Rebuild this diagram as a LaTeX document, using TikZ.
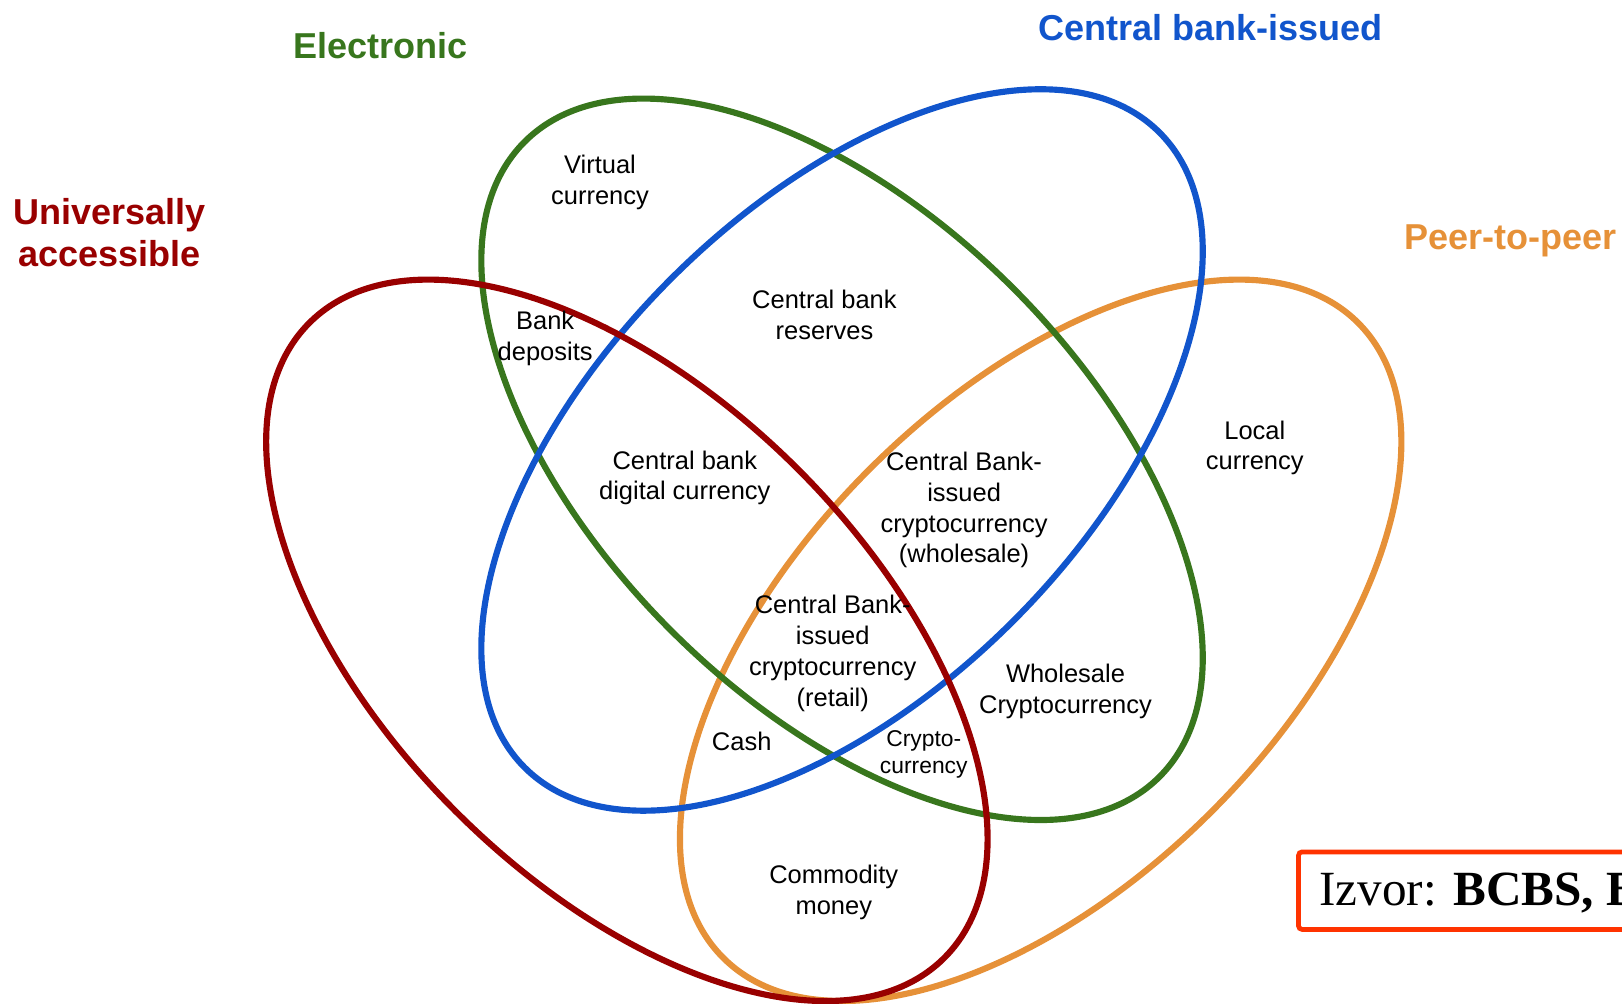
\documentclass[tikz,border=0pt]{standalone}
\usepackage{fontspec}
\setmainfont{Liberation Sans}
\newfontfamily\izvorfont{Liberation Serif}
\usepackage{xcolor}
\usepackage{tikz}
\usetikzlibrary{positioning}

\definecolor{univred}{HTML}{990000}
\definecolor{elecgreen}{HTML}{38761D}
\definecolor{cbblue}{HTML}{1155CC}
\definecolor{ptporange}{HTML}{E69138}
\definecolor{izvorred}{HTML}{FF3300}

\begin{document}
\begin{tikzpicture}[x=0.020688cm, y=-0.020688cm,
  set/.style={line width=3.5pt},
  petal/.style={x radius=8.98cm, y radius=4.84cm},
  title/.style={font=\fontsize{20.5}{24.1}\selectfont\bfseries, align=center, inner sep=0pt},
  region/.style={font=\fontsize{14.5}{17.6}\selectfont, align=center, inner sep=0pt},
  small/.style={font=\fontsize{13}{15.3}\selectfont, align=center, inner sep=0pt},
  source/.style={draw=izvorred, line width=2.7pt, rounded corners=2pt, minimum height=1.55cm,
    inner xsep=0.42cm, text height=0.62cm, text depth=0.04cm, font=\izvorfont\fontsize{28}{30}\selectfont}]
\useasboundingbox (0,0) rectangle (1568,970);
\clip (0,0) rectangle (1568,970);
% Centros
\coordinate (cptp) at (1006,619);
\coordinate (celec) at (814,444);
\coordinate (ccb) at (814,435);
\coordinate (cuniv) at (606,619);
% Conjuntos
\draw[set, ptporange, rotate around={45:(cptp)}] (cptp) ellipse [petal];
\draw[set, elecgreen, rotate around={-45:(celec)}] (celec) ellipse [petal];
\draw[set, cbblue, rotate around={45:(ccb)}] (ccb) ellipse [petal];
\draw[set, univred, rotate around={-45:(cuniv)}] (cuniv) ellipse [petal];
% Nombres de conjuntos
\node[title, text=elecgreen] (elec) at (368,44) {Electronic};
\node[title, text=cbblue] (cbissued) at (1170,27) {Central bank-issued};
\node[title, text=univred] (univ) at (106,225) {Universally\\accessible};
\node[title, text=ptporange] (ptp) at (1460,233) {Peer-to-peer};
% Regiones
\node[region] (virtual) at (580,176) {Virtual\\currency};
\node[region] (deposits) at (527,327) {Bank\\deposits};
\node[region] (reserves) at (797,304) {Central bank\\reserves};
\node[region] (cbdc) at (662,462) {Central bank\\digital currency};
\node[region] (wholesale) at (932,493) {Central Bank-\\issued\\cryptocurrency\\(wholesale)};
\node[region] (local) at (1213,433) {Local\\currency};
\node[region] (retail) at (805,632) {Central Bank-\\issued\\cryptocurrency\\(retail)};
\node[region] (wcrypto) at (1030,668) {Wholesale\\Cryptocurrency};
\node[region] (cash) at (717,717) {Cash};
\node[small] (crypto) at (893,729) {Crypto-\\currency};
\node[region] (commodity) at (806,863) {Commodity\\money};
% Fuente
\node[source, anchor=west] (izvor) at (1253,861) {Izvor: \textbf{BCBS, BIS}};
\end{tikzpicture}
\end{document}
